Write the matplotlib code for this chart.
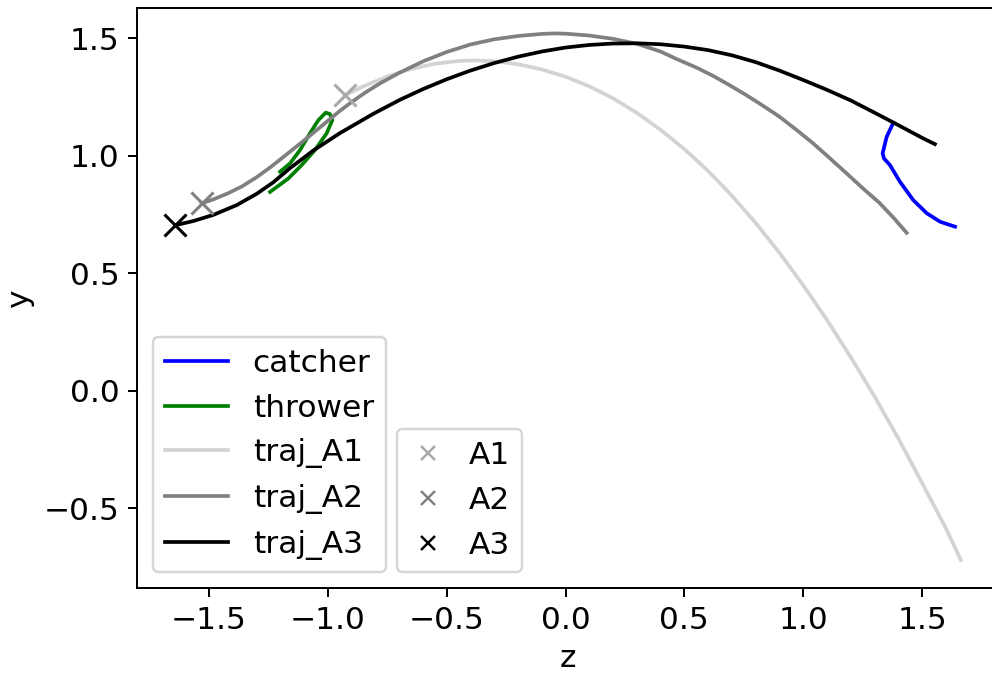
import matplotlib
matplotlib.use("Agg")
import matplotlib.pyplot as plt
from matplotlib.lines import Line2D

# catcher hand path (z, y)
catcher_z = [1.379, 1.351, 1.334, 1.340, 1.365, 1.407, 1.463, 1.520, 1.576, 1.639]
catcher_y = [1.140, 1.080, 1.010, 0.988, 0.960, 0.889, 0.811, 0.755, 0.719, 0.698]

# thrower hand path: up the right side of the loop, back down the left side
thrower_z = [-1.243, -1.166, -1.110, -1.054, -1.005, -0.981, -0.991, -1.009,
             -1.040, -1.075, -1.117, -1.159, -1.201]
thrower_y = [0.846, 0.903, 0.960, 1.024, 1.095, 1.151, 1.177, 1.183,
             1.151, 1.095, 1.024, 0.967, 0.932]

trajA1_z = [-0.928, -0.85, -0.75, -0.65, -0.55, -0.45, -0.38, -0.30, -0.20, -0.10,
            0.00, 0.10, 0.20, 0.30, 0.40, 0.50, 0.60, 0.70, 0.80, 0.90,
            1.00, 1.10, 1.20, 1.30, 1.40, 1.50, 1.60, 1.663]
trajA1_y = [1.258, 1.295, 1.337, 1.369, 1.391, 1.403, 1.405, 1.402, 1.389, 1.367,
            1.336, 1.295, 1.244, 1.182, 1.110, 1.028, 0.935, 0.830, 0.714, 0.587,
            0.449, 0.301, 0.143, -0.024, -0.202, -0.392, -0.584, -0.720]

trajA2_z = [-1.531, -1.48, -1.42, -1.36, -1.30, -1.24, -1.18, -1.10, -1.05, -1.00,
            -0.95, -0.90, -0.84, -0.78, -0.70, -0.60, -0.50, -0.40, -0.30, -0.20,
            -0.10, -0.05, 0.00, 0.10, 0.20, 0.30, 0.40, 0.47, 0.55, 0.62,
            0.69, 0.76, 0.83, 0.90, 0.97, 1.04, 1.11, 1.18, 1.25, 1.32, 1.38, 1.435]
trajA2_y = [0.797, 0.815, 0.840, 0.870, 0.908, 0.952, 1.000, 1.065, 1.106, 1.148,
            1.190, 1.228, 1.270, 1.308, 1.352, 1.401, 1.441, 1.473, 1.495, 1.509,
            1.518, 1.520, 1.519, 1.511, 1.497, 1.476, 1.443, 1.410, 1.375, 1.340,
            1.300, 1.258, 1.213, 1.166, 1.111, 1.054, 0.991, 0.927, 0.862, 0.800, 0.736, 0.672]

trajA3_z = [-1.643, -1.566, -1.482, -1.383, -1.299, -1.229, -1.159, -1.061, -0.949, -0.809,
            -0.696, -0.60, -0.50, -0.40, -0.30, -0.20, -0.10, 0.00, 0.10, 0.20,
            0.30, 0.40, 0.50, 0.60, 0.70, 0.80, 0.90, 1.00, 1.10, 1.20,
            1.30, 1.40, 1.50, 1.554]
trajA3_y = [0.704, 0.722, 0.748, 0.790, 0.838, 0.887, 0.947, 1.022, 1.096, 1.178,
            1.238, 1.283, 1.325, 1.362, 1.394, 1.421, 1.443, 1.460, 1.471, 1.477,
            1.478, 1.474, 1.464, 1.449, 1.427, 1.398, 1.362, 1.322, 1.280, 1.235,
            1.183, 1.130, 1.076, 1.049]

# release points
release_names = ["A1", "A2", "A3"]
release_z = [-0.928, -1.531, -1.643]
release_y = [1.258, 0.797, 0.704]
release_colors = ["darkgray", "gray", "black"]

S = 1.78  # scale of the original render
plt.rcParams.update({
    "font.size": 22.5,
    "lines.linewidth": 1.5 * S,
    "axes.linewidth": 0.8 * S,
    "patch.linewidth": 1.0 * S,
    "xtick.major.size": 3.5 * S, "ytick.major.size": 3.5 * S,
    "xtick.major.width": 0.8 * S, "ytick.major.width": 0.8 * S,
    "xtick.major.pad": 3.5 * S, "ytick.major.pad": 3.5 * S,
    "axes.labelpad": 4.0 * S,
})

fig = plt.figure(figsize=(9.92, 6.78), dpi=100)
ax = fig.add_axes([0.1378, 0.1323, 0.8703, 0.8555])

ax.plot(catcher_z, catcher_y, color="blue", label="catcher")
ax.plot(thrower_z, thrower_y, color="green", label="thrower")
ax.plot(trajA1_z, trajA1_y, color="lightgray", label="traj_A1")
ax.plot(trajA2_z, trajA2_y, color="gray", label="traj_A2")
ax.plot(trajA3_z, trajA3_y, color="black", label="traj_A3")

handles = []
for name, z, y, c in zip(release_names, release_z, release_y, release_colors):
    ax.plot([z], [y], marker="x", linestyle="none", color=c, markersize=16, markeredgewidth=2.2)
    handles.append(Line2D([], [], marker="x", linestyle="none", color=c,
                          markersize=6 * S, markeredgewidth=1.0 * S, label=name))

ax.set_xlim(-1.804, 1.828)
ax.set_ylim(-0.840, 1.627)
ax.set_xlabel("z")
ax.set_ylabel("y")

leg1 = ax.legend(loc="lower left", bbox_to_anchor=(0.0185, 0.0281), borderaxespad=0)
ax.add_artist(leg1)
ax.legend(handles=handles, loc="lower left", bbox_to_anchor=(0.3012, 0.0281),
          borderaxespad=0, handlelength=1.2, handletextpad=0.7)

fig.savefig("out.png", dpi=100)
